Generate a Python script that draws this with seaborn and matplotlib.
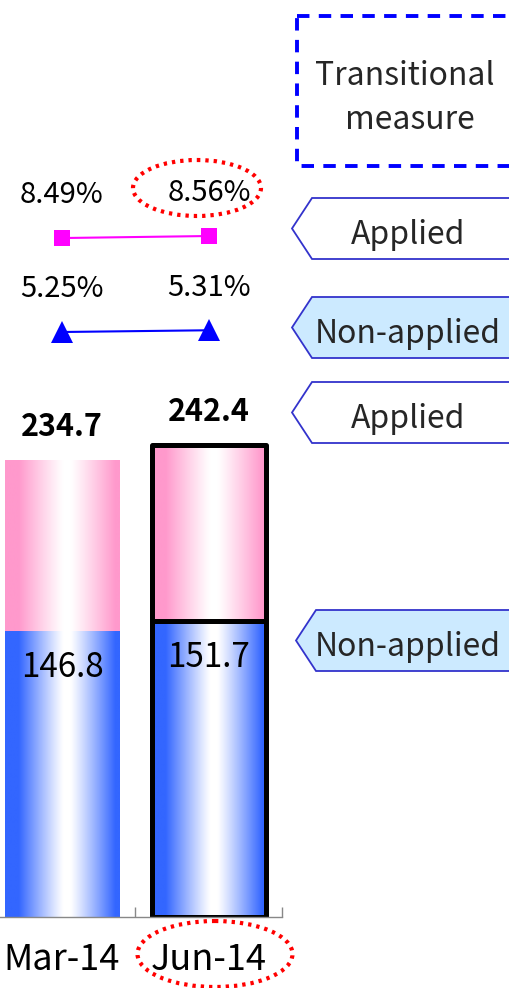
import numpy as np
import pandas as pd
import matplotlib
matplotlib.use("Agg")
import matplotlib.pyplot as plt
from matplotlib.patches import Polygon, Ellipse, Rectangle
from matplotlib.colors import to_rgb
import seaborn as sns

# ---- data ----
periods = ["Mar-14", "Jun-14"]
total_values = [234.7, 242.4]          # applied + non-applied
non_applied_values = [146.8, 151.7]
ratio_applied = [8.49, 8.56]
ratio_non_applied = [5.25, 5.31]

W, H = 510, 988
DPI = 100

sns.set_theme(style="white")
FONT = ["Noto Sans CJK JP", "DejaVu Sans"]
plt.rcParams["font.family"] = FONT

fig = plt.figure(figsize=(W / DPI, H / DPI), dpi=DPI)


def fig_rect(x0, y0, x1, y1):
    """Pixel box (top-left origin) -> figure fraction rect."""
    return [x0 / W, 1 - y1 / H, (x1 - x0) / W, (y1 - y0) / H]


# ---- stacked bars ----
BAR_PX = 1.948          # pixels per unit
BASE_Y = 917
BAR_TOP_Y = 370
axb = fig.add_axes(fig_rect(-11.5, BAR_TOP_Y, 282.5, BASE_Y))
axb.patch.set_alpha(0)

df = pd.DataFrame({"period": periods, "total": total_values,
                   "non_applied": non_applied_values})
sns.barplot(data=df, x="period", y="total", color="#ff99cc", width=0.776,
            ax=axb, saturation=1)
sns.barplot(data=df, x="period", y="non_applied", color="#3366ff",
            width=0.776, ax=axb, saturation=1)
axb.set_xlim(-0.5, 1.5)
axb.set_ylim(0, (BASE_Y - BAR_TOP_Y) / BAR_PX)


def gradient_img(edge_hex, n=256):
    edge = np.array(to_rgb(edge_hex))
    x = np.linspace(0, 1, n)
    t = np.abs(x - 0.54) / 0.54
    f = np.clip((t - 0.06) / 0.72, 0, 1) ** 1.1
    rgb = (1 - f)[:, None] * np.ones(3) + f[:, None] * edge
    return rgb[None, :, :]


n = len(periods)
for i, p in enumerate(axb.patches):
    edge_col = "#ff99cc" if i < n else "#3366ff"
    x0, y0 = p.get_x(), p.get_y()
    w, h = p.get_width(), p.get_height()
    img = axb.imshow(gradient_img(edge_col), extent=[x0, x0 + w, y0, y0 + h],
                     aspect="auto", zorder=1, interpolation="bilinear")
    img.set_clip_path(p)
    p.set_facecolor("none")
    p.set_zorder(2)
    if i % n == 1:
        p.set_edgecolor("black")
        p.set_linewidth(3.6)
        p.set_joinstyle("round")
    else:
        p.set_edgecolor("none")

# value labels
for i in range(n):
    axb.text(i, total_values[i] + 17.0, f"{total_values[i]:.1f}",
             ha="center", va="center", fontsize=22, fontweight="bold",
             color="black")
    axb.text(i, non_applied_values[i] - 18.5, f"{non_applied_values[i]:.1f}",
             ha="center", va="center", fontsize=24, color="black")

axb.set_xlabel("")
axb.set_ylabel("")
axb.set_yticks([])
axb.set_xticks([0.5, 1.5], minor=False)
axb.set_xticklabels([])
axb.tick_params(axis="x", which="major", direction="in", length=7,
                width=1, color="#888888", bottom=True)
for i, lab in enumerate(periods):
    axb.text(i, -22.0, lab, ha="center", va="center", fontsize=26,
             color="black", clip_on=False)
for s in ["top", "left", "right"]:
    axb.spines[s].set_visible(False)
axb.spines["bottom"].set_color("#888888")
axb.spines["bottom"].set_linewidth(1)

# ---- ratio lines ----
LINE_PX = 29.0
top_px, bot_px = 150, 370
axl = fig.add_axes(fig_rect(-11.5, top_px, 282.5, bot_px))
axl.patch.set_alpha(0)
ymin = 5.25 - (bot_px - 332) / LINE_PX
ymax = ymin + (bot_px - top_px) / LINE_PX
xs = np.arange(n)
sns.lineplot(x=xs, y=ratio_applied, color="#ff00ff", marker="s",
             markersize=12, markeredgewidth=0, linewidth=1.5, ax=axl)
sns.lineplot(x=xs, y=ratio_non_applied, color="#0000ff", marker="^",
             markersize=16, markeredgewidth=0, linewidth=1.5, ax=axl)
axl.set_xlim(-0.5, 1.5)
axl.set_ylim(ymin, ymax)
axl.axis("off")
for i in range(n):
    axl.text(i, ratio_applied[i] + 1.47, f"{ratio_applied[i]:.2f}%",
             ha="center", va="center", fontsize=21, color="black")
    axl.text(i, ratio_non_applied[i] + 1.47, f"{ratio_non_applied[i]:.2f}%",
             ha="center", va="center", fontsize=21, color="black")

# ---- annotation layer in pixel coordinates ----
ov = fig.add_axes([0, 0, 1, 1])
ov.set_xlim(0, W)
ov.set_ylim(H, 0)
ov.axis("off")
ov.patch.set_alpha(0)

# dashed box
ov.add_patch(Rectangle((297, 16), 240, 150, fill=False, edgecolor="#0000ff",
                       linewidth=2.8, linestyle=(0, (3.2, 2.4))))
ov.text(405, 76, "Transitional", ha="center", va="center", fontsize=23)
ov.text(410, 120, "measure", ha="center", va="center", fontsize=23)


def tag(y_top, y_bot, tip_x, face, label):
    y_mid = (y_top + y_bot) / 2
    pts = [(tip_x, y_mid), (tip_x + 20, y_top), (530, y_top),
           (530, y_bot), (tip_x + 20, y_bot)]
    ov.add_patch(Polygon(pts, closed=True, facecolor=face,
                         edgecolor="#3333cc", linewidth=1.3))
    ov.text(408, y_mid + 6, label, ha="center", va="center", fontsize=23)


tag(198, 259, 292, "white", "Applied")
tag(297, 358, 292, "#cceaff", "Non-applied")
tag(382, 443, 292, "white", "Applied")
tag(610, 671, 296, "#cceaff", "Non-applied")

# red dotted highlights
ov.add_patch(Ellipse((197, 188), 128, 56, fill=False, edgecolor="#ff0000",
                     linewidth=3, linestyle=(0, (0.8, 1.2))))
ov.add_patch(Ellipse((215, 954), 155, 66, fill=False, edgecolor="#ff0000",
                     linewidth=3, linestyle=(0, (0.8, 1.2))))

fig.savefig("out.png", dpi=DPI)
